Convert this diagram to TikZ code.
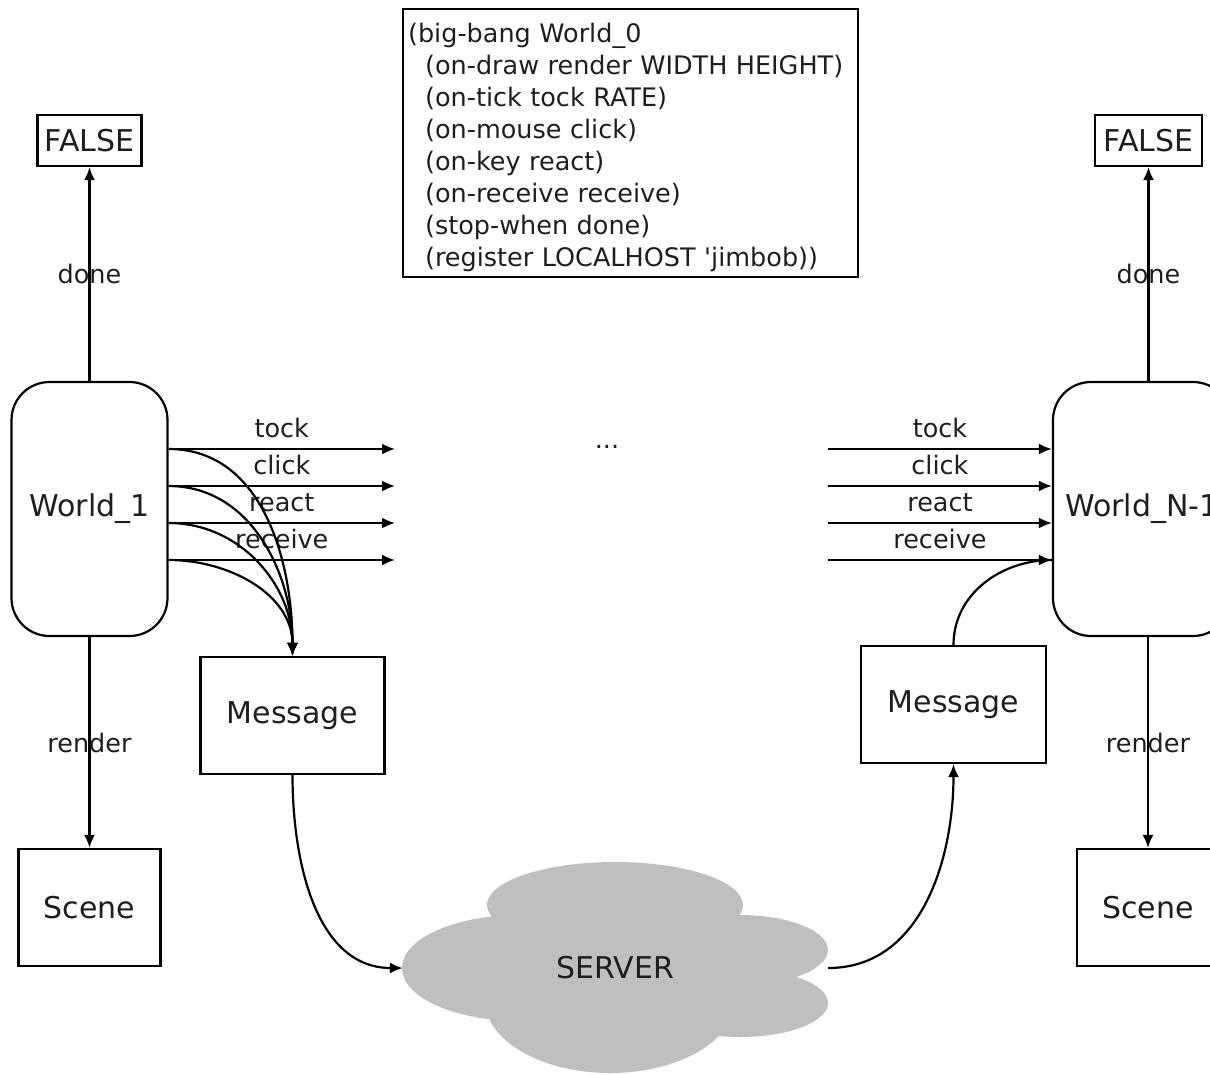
\documentclass[tikz,border=0pt]{standalone}
\usepackage{fontspec}
\setmainfont{DejaVu Sans}
\usetikzlibrary{arrows.meta}
\definecolor{cloudgray}{RGB}{191,191,191}
\definecolor{inkgray}{RGB}{30,30,30}
\newcommand{\mynodefont}{\fontsize{30}{34}\selectfont}
\newcommand{\mylblfont}{\fontsize{25.5}{30}\selectfont}
\newcommand{\mycodefont}{\fontsize{25.5}{32}\selectfont}
\begin{document}
\begin{tikzpicture}[x=1pt,y=-1pt,
  box/.style={draw, line width=2.2pt, inner sep=0pt, font=\mynodefont, text=inkgray},
  wbox/.style={box, rounded corners=38pt, minimum height=254pt},
  conn/.style={line width=2.2pt},
  arr/.style={conn, -{Latex[length=13pt,width=11pt]}},
  lbl/.style={font=\mylblfont, inner sep=1pt, text=inkgray},
  toplbl/.style={lbl, above=9pt}]
\useasboundingbox (0,0) rectangle (1210,1074);

% code box
\node[draw, line width=2.2pt, anchor=north west, minimum width=455pt, minimum height=268pt,
      text width=445pt, inner xsep=5pt, align=left, font=\mycodefont, text=inkgray] (bb) at (402,8)
 {\rule{0pt}{27.4pt}(big-bang World\_0\\
  \hspace*{17pt}(on-draw render WIDTH HEIGHT)\\
  \hspace*{17pt}(on-tick tock RATE)\\
  \hspace*{17pt}(on-mouse click)\\
  \hspace*{17pt}(on-key react)\\
  \hspace*{17pt}(on-receive receive)\\
  \hspace*{17pt}(stop-when done)\\
  \hspace*{17pt}(register LOCALHOST \textquotesingle jimbob))};

% cloud
\fill[cloudgray] (615,905) ellipse (128pt and 43pt);
\fill[cloudgray] (520,968) ellipse (118pt and 53pt);
\fill[cloudgray] (740,950) ellipse (88pt and 35pt);
\fill[cloudgray] (740,1003) ellipse (88pt and 34pt);
\fill[cloudgray] (610,1000) ellipse (125pt and 73pt);
\fill[cloudgray] (615,960) ellipse (150pt and 45pt);
\node[font=\mynodefont, text=inkgray, minimum width=425pt, inner sep=0pt] (srv) at (615.5,968) {SERVER};

% left column
\node[box, minimum width=104pt, minimum height=51pt] (f1) at (89.5,140.5) {FALSE};
\node[wbox, minimum width=156pt] (w1) at (89.5,509) {World\_1};
\node[box, minimum width=184pt, minimum height=117pt] (m1) at (292.5,715.5) {Message};
\node[box, minimum width=142pt, minimum height=117pt] (s1) at (89.5,907.5) {Scene};

% right column
\node[box, minimum width=107pt, minimum height=51pt] (f2) at (1148.5,140.5) {FALSE};
\node[wbox, minimum width=178pt] (w2) at (1142,509) {World\_N-1};
\node[box, minimum width=185pt, minimum height=117pt] (m2) at (953.5,704.5) {Message};
\node[box, minimum width=142pt, minimum height=117pt] (s2) at (1148,907.5) {Scene};

\node[font=\mylblfont, text=inkgray, anchor=base, inner sep=0pt] (dots) at (607,448) {...};

% row levels
\coordinate (ya) at (0,449);
\coordinate (yb) at (0,486);
\coordinate (yc) at (0,523);
\coordinate (yd) at (0,560);
\coordinate (la) at (395,449);
\coordinate (lb) at (395,486);
\coordinate (lc) at (395,523);
\coordinate (ld) at (395,560);
\coordinate (ra) at (828,449);
\coordinate (rb) at (828,486);
\coordinate (rc) at (828,523);
\coordinate (rd) at (828,560);

% vertical arrows
\draw[arr] (w1.north) -- node[lbl]{done} (f1.south);
\draw[arr] (w1.south) -- node[lbl]{render} (s1.north);
\draw[arr] (f2.south |- w2.north) -- node[lbl]{done} (f2.south);
\draw[arr] (s2.north |- w2.south) -- node[lbl]{render} (s2.north);

% left horizontal arrows
\draw[arr] (w1.east |- ya) -- node[toplbl]{tock} (la);
\draw[arr] (w1.east |- yb) -- node[toplbl]{click} (lb);
\draw[arr] (w1.east |- yc) -- node[toplbl]{react} (lc);
\draw[arr] (w1.east |- yd) -- node[toplbl]{receive} (ld);

% curves into Message
\draw[arr] (w1.east |- ya) to[out=0,in=90] (m1.north);
\draw[arr] (w1.east |- yb) to[out=0,in=90] (m1.north);
\draw[arr] (w1.east |- yc) to[out=0,in=90] (m1.north);
\draw[arr] (w1.east |- yd) to[out=0,in=90] (m1.north);

% right horizontal arrows
\draw[arr] (ra) -- node[toplbl]{tock} (w2.west |- ya);
\draw[arr] (rb) -- node[toplbl]{click} (w2.west |- yb);
\draw[arr] (rc) -- node[toplbl]{react} (w2.west |- yc);
\draw[arr] (rd) -- node[toplbl]{receive} (w2.west |- yd);
\draw[conn] (m2.north) to[out=90,in=180] (w2.west |- yd);

% server connections
\draw[arr] (m1.south) to[out=-90,in=180] (srv.west);
\draw[arr] (srv.east) to[out=0,in=-90] (m2.south);
\end{tikzpicture}
\end{document}
